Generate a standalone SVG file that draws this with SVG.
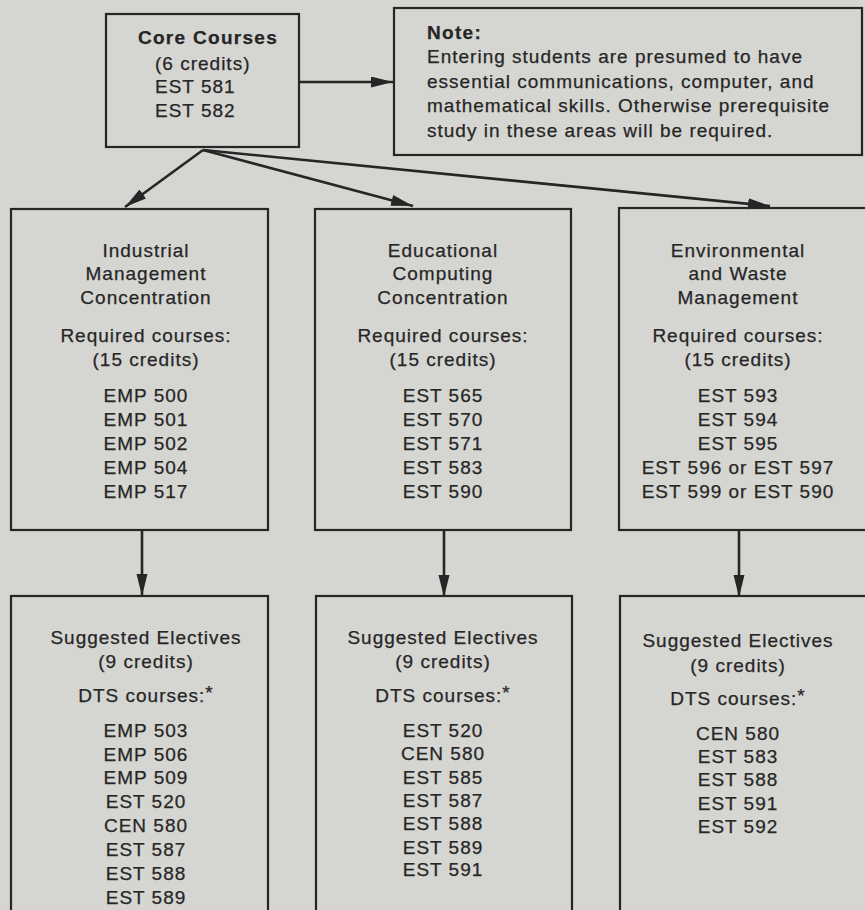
<svg xmlns="http://www.w3.org/2000/svg" width="865" height="910" viewBox="0 0 865 910">
<defs>
<style>
.box{fill:none;stroke:#262626;stroke-width:2.2}
.t{font-family:"Liberation Sans",Arial,Helvetica,sans-serif;font-size:19px;letter-spacing:1px;fill:#262626;stroke:#262626;stroke-width:0.25}
.c{text-anchor:middle}
.b{font-weight:bold;letter-spacing:1.3px}
.ln{stroke:#262626;stroke-width:2.6;fill:none}
</style>
<marker id="ah" markerUnits="userSpaceOnUse" markerWidth="24" markerHeight="12" refX="22" refY="5.5" orient="auto">
<path d="M0,0 L22,5.5 L0,11 Z" fill="#262626"/>
</marker>
</defs>
<rect x="0" y="0" width="865" height="910" fill="#d5d5d1"/>

<g id="connectors">
<line class="ln" x1="299" y1="82" x2="393" y2="82" marker-end="url(#ah)"/>
<line class="ln" x1="203" y1="150" x2="125" y2="207" marker-end="url(#ah)"/>
<line class="ln" x1="203" y1="150" x2="413" y2="206" marker-end="url(#ah)"/>
<line class="ln" x1="203" y1="150" x2="770" y2="206" marker-end="url(#ah)"/>
<line class="ln" x1="142" y1="530" x2="142" y2="596" marker-end="url(#ah)"/>
<line class="ln" x1="444" y1="530" x2="444" y2="597" marker-end="url(#ah)"/>
<line class="ln" x1="739" y1="530" x2="739" y2="597" marker-end="url(#ah)"/>
</g>

<g id="core">
<rect class="box" x="106" y="14" width="193" height="133"/>
<text class="t c b" x="208" y="44">Core Courses</text>
<text class="t" x="155" y="70">(6 credits)</text>
<text class="t" x="155" y="93">EST 581</text>
<text class="t" x="155" y="117">EST 582</text>
</g>

<g id="note">
<rect class="box" x="394" y="8" width="468" height="147"/>
<text class="t b" x="427" y="39">Note:</text>
<text class="t" x="427" y="63">Entering students are presumed to have</text>
<text class="t" x="427" y="88">essential communications, computer, and</text>
<text class="t" x="427" y="112">mathematical skills. Otherwise prerequisite</text>
<text class="t" x="427" y="137">study in these areas will be required.</text>
</g>

<g id="industrial">
<rect class="box" x="11" y="209" width="257" height="321"/>
<text class="t c" x="146" y="257">Industrial</text>
<text class="t c" x="146" y="280">Management</text>
<text class="t c" x="146" y="304">Concentration</text>
<text class="t c" x="146" y="342">Required courses:</text>
<text class="t c" x="146" y="366">(15 credits)</text>
<text class="t c" x="146" y="402">EMP 500</text>
<text class="t c" x="146" y="426">EMP 501</text>
<text class="t c" x="146" y="450">EMP 502</text>
<text class="t c" x="146" y="474">EMP 504</text>
<text class="t c" x="146" y="498">EMP 517</text>
</g>

<g id="educational">
<rect class="box" x="315" y="209" width="256" height="321"/>
<text class="t c" x="443" y="257">Educational</text>
<text class="t c" x="443" y="280">Computing</text>
<text class="t c" x="443" y="304">Concentration</text>
<text class="t c" x="443" y="342">Required courses:</text>
<text class="t c" x="443" y="366">(15 credits)</text>
<text class="t c" x="443" y="402">EST 565</text>
<text class="t c" x="443" y="426">EST 570</text>
<text class="t c" x="443" y="450">EST 571</text>
<text class="t c" x="443" y="474">EST 583</text>
<text class="t c" x="443" y="498">EST 590</text>
</g>

<g id="environmental">
<rect class="box" x="619" y="208" width="262" height="322"/>
<text class="t c" x="738" y="257">Environmental</text>
<text class="t c" x="738" y="280">and Waste</text>
<text class="t c" x="738" y="304">Management</text>
<text class="t c" x="738" y="342">Required courses:</text>
<text class="t c" x="738" y="366">(15 credits)</text>
<text class="t c" x="738" y="402">EST 593</text>
<text class="t c" x="738" y="426">EST 594</text>
<text class="t c" x="738" y="450">EST 595</text>
<text class="t c" x="738" y="474">EST 596 or EST 597</text>
<text class="t c" x="738" y="498">EST 599 or EST 590</text>
</g>

<g id="electives-industrial">
<rect class="box" x="11" y="596" width="257" height="330"/>
<text class="t c" x="146" y="644">Suggested Electives</text>
<text class="t c" x="146" y="668">(9 credits)</text>
<text class="t c" x="146" y="702">DTS courses:<tspan dy="-3">*</tspan></text>
<text class="t c" x="146" y="737">EMP 503</text>
<text class="t c" x="146" y="761">EMP 506</text>
<text class="t c" x="146" y="784">EMP 509</text>
<text class="t c" x="146" y="808">EST 520</text>
<text class="t c" x="146" y="832">CEN 580</text>
<text class="t c" x="146" y="856">EST 587</text>
<text class="t c" x="146" y="880">EST 588</text>
<text class="t c" x="146" y="904">EST 589</text>
</g>

<g id="electives-educational">
<rect class="box" x="316" y="596" width="256" height="330"/>
<text class="t c" x="443" y="644">Suggested Electives</text>
<text class="t c" x="443" y="668">(9 credits)</text>
<text class="t c" x="443" y="702">DTS courses:<tspan dy="-3">*</tspan></text>
<text class="t c" x="443" y="737">EST 520</text>
<text class="t c" x="443" y="760">CEN 580</text>
<text class="t c" x="443" y="784">EST 585</text>
<text class="t c" x="443" y="807">EST 587</text>
<text class="t c" x="443" y="830">EST 588</text>
<text class="t c" x="443" y="854">EST 589</text>
<text class="t c" x="443" y="876">EST 591</text>
</g>

<g id="electives-environmental">
<rect class="box" x="620" y="596" width="262" height="330"/>
<text class="t c" x="738" y="647">Suggested Electives</text>
<text class="t c" x="738" y="672">(9 credits)</text>
<text class="t c" x="738" y="705">DTS courses:<tspan dy="-3">*</tspan></text>
<text class="t c" x="738" y="740">CEN 580</text>
<text class="t c" x="738" y="763">EST 583</text>
<text class="t c" x="738" y="786">EST 588</text>
<text class="t c" x="738" y="810">EST 591</text>
<text class="t c" x="738" y="833">EST 592</text>
</g>
</svg>
